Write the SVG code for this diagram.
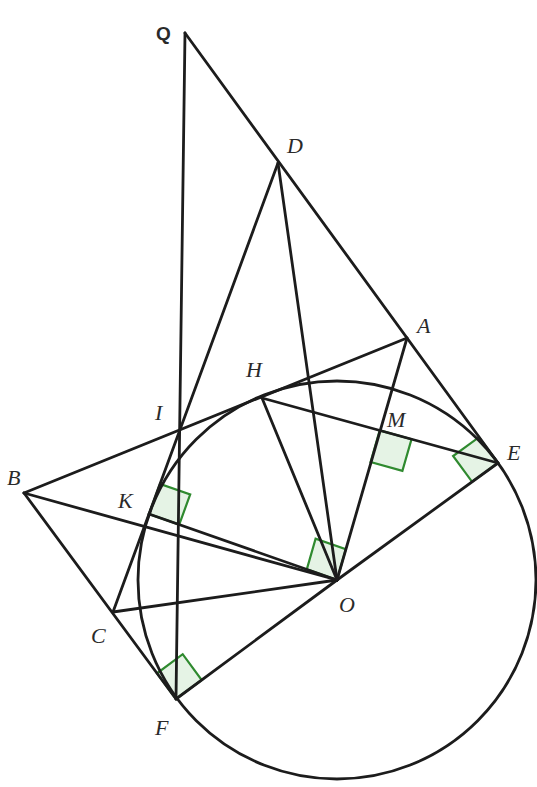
<svg xmlns="http://www.w3.org/2000/svg" width="537" height="787" viewBox="0 0 537 787">
<style>
.ln{stroke:#1c1c1c;stroke-width:2.8;fill:none;stroke-linecap:round;stroke-linejoin:round}
.ra{stroke:#2f8a2f;stroke-width:2.2;fill:#dff0df;fill-opacity:0.8;stroke-linejoin:miter}
.lb{font-family:"Liberation Serif","DejaVu Serif",serif;font-style:italic;font-size:22px;fill:#2a2a2a}
.lq{font-family:"Liberation Sans","DejaVu Sans",sans-serif;font-weight:bold;font-size:19px;fill:#2a2a2a}
</style>
<rect width="537" height="787" fill="#ffffff"/>
<g id="right-angles">
<polygon class="ra" points="149,514 160,484 190.2,494.5 179.2,524.6"/>
<polygon class="ra" points="337,580 306.8,569.4 315.6,538.6 345.8,549.2"/>
<polygon class="ra" points="379.7,430.4 411.5,439.2 402.4,470.9 370.6,462.1"/>
<polygon class="ra" points="498,463 479,437.2 453.1,456 472.1,481.8"/>
<polygon class="ra" points="176,699 157,673.3 182.7,654.2 201.7,680"/>
</g>
<g id="connectors">
<circle class="ln" cx="337" cy="580" r="199"/>
<line class="ln" x1="185" y1="33" x2="176" y2="699"/>
<line class="ln" x1="185" y1="33" x2="498" y2="463"/>
<line class="ln" x1="278" y1="163" x2="113" y2="612"/>
<line class="ln" x1="278" y1="163" x2="337" y2="580"/>
<line class="ln" x1="24" y1="493" x2="407" y2="338"/>
<line class="ln" x1="24" y1="493" x2="176" y2="699"/>
<line class="ln" x1="24" y1="493" x2="337" y2="580"/>
<line class="ln" x1="149" y1="514" x2="337" y2="580"/>
<line class="ln" x1="113" y1="612" x2="337" y2="580"/>
<line class="ln" x1="176" y1="699" x2="337" y2="580"/>
<line class="ln" x1="498" y1="463" x2="337" y2="580"/>
<line class="ln" x1="262" y1="398" x2="498" y2="463"/>
<line class="ln" x1="262" y1="398" x2="337" y2="580"/>
<line class="ln" x1="407" y1="338" x2="337" y2="580"/>
</g>
<g id="Q"><text class="lq" x="156" y="40">Q</text></g>
<g id="D"><text class="lb" x="287" y="153">D</text></g>
<g id="A"><text class="lb" x="417" y="333">A</text></g>
<g id="H"><text class="lb" x="246" y="377">H</text></g>
<g id="I"><text class="lb" x="155" y="420">I</text></g>
<g id="B"><text class="lb" x="7" y="485">B</text></g>
<g id="K"><text class="lb" x="118" y="508">K</text></g>
<g id="M"><text class="lb" x="387" y="427">M</text></g>
<g id="E"><text class="lb" x="507" y="460">E</text></g>
<g id="O"><text class="lb" x="339" y="612">O</text></g>
<g id="C"><text class="lb" x="91" y="643">C</text></g>
<g id="F"><text class="lb" x="155" y="735">F</text></g>
</svg>
